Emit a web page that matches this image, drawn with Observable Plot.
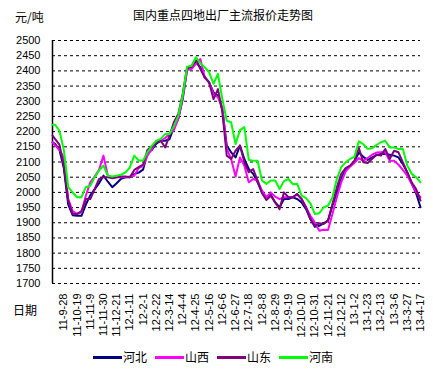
<!DOCTYPE html>
<html>
<head>
<meta charset="utf-8">
<script src="https://cdn.jsdelivr.net/npm/d3@7"></script>
<script src="https://cdn.jsdelivr.net/npm/@observablehq/plot@0.6"></script>
<style>
  html, body { margin: 0; padding: 0; background: #fff; }
  #wrap { position: relative; width: 433px; height: 370px; overflow: hidden; background: #fff; }
  #chart { position: absolute; left: 0; top: 0; }
  .txt { position: absolute; font-family: "Noto Sans CJK SC", sans-serif; font-size: 12px; color: #000; line-height: 1; white-space: nowrap; }
  #legend { position: absolute; left: 93px; top: 351px; display: flex; align-items: center; font-family: "Noto Sans CJK SC", sans-serif; font-size: 12px; line-height: 1; }
  #legend .item { display: flex; align-items: center; margin-right: 8px; }
  #legend .sw { width: 29px; height: 3px; margin-right: 1px; }
</style>
</head>
<body>
<div id="wrap">
  <div id="chart"></div>
  <div class="txt" style="left:15px; top:11px;">元/吨</div>
  <div class="txt" style="left:133px; top:9px;">国内重点四地出厂主流报价走势图</div>
  <div class="txt" style="left:13px; top:304px;">日期</div>
  <div id="legend"></div>
</div>
<script>
// Tick labels (every 21 days)
const tickLabels = ["11-9-28","11-10-19","11-11-9","11-11-30","11-12-21","12-1-11","12-2-1","12-2-22","12-3-14","12-4-4","12-4-25","12-5-16","12-6-6","12-6-27","12-7-18","12-8-8","12-8-29","12-9-19","12-10-10","12-10-31","12-11-21","12-12-12","13-1-2","13-1-23","13-2-13","13-3-6","13-3-27","13-4-17"];

const seriesNames = ["河北", "山西", "山东", "河南"];
const seriesColors = ["#000080", "#FF00FF", "#800080", "#00FF00"];

// Sample dates: axis start, then weekly from 2011-09-14 to 2013-04-17
const startDay = "2011-09-10";
const firstWeek = "2011-09-14";
const weekCount = 84;

// Values (元/吨) read at each sample date
const hebei = [2165,
 2160,2140,2080,1960,1925,1923,1923,1960,1990,2010,2030,2055,2035,2017,2030,2045,2050,2050,2060,2065,2075,2130,2140,2160,2170,2170,2175,2215,
 2242,2307,2406,2417,2428,2412,2379,2362,2329,2318,2275,2154,2132,2115,2154,2110,2077,2061,2033,2000,1984,1993,1967,1951,1978,1978,
 1984,1978,1967,1945,1912,1887,1890,1898,1907,1956,2000,2044,2077,2086,2102,2131,2117,2107,2115,2123,2126,2126,2124,2121,2115,2093,2066,2030,1997,1951];

const shanxi = [2165,
 2155,2140,2115,1978,1938,1929,1934,1989,2033,2052,2074,2121,2055,2046,2050,2050,2050,2052,2055,2080,2087,2121,2143,2168,2170,2179,2192,2205,
 2242,2313,2403,2406,2423,2439,2379,2362,2324,2313,2280,2143,2110,2052,2115,2088,2033,2044,2039,2006,1984,2000,1986,1978,1984,1984,
 1984,1993,1978,1951,1923,1901,1874,1877,1876,1929,1984,2033,2069,2085,2097,2113,2104,2113,2124,2131,2132,2132,2104,2104,2091,2074,2055,2028,2000,1984];

const shandong = [2187,
 2176,2157,2088,1973,1929,1929,1938,1978,1978,2011,2044,2050,2050,2047,2050,2052,2052,2050,2074,2083,2091,2140,2150,2164,2170,2148,2187,2231,
 2258,2324,2412,2412,2439,2406,2379,2362,2307,2340,2264,2121,2110,2137,2154,2099,2066,2077,2039,1997,1975,1989,1967,1945,2000,1984,
 1984,1995,1978,1951,1912,1890,1898,1896,1907,1962,2017,2061,2080,2088,2104,2146,2099,2097,2110,2124,2121,2143,2110,2137,2132,2099,2066,2033,2011,1973];

const henan = [2223,
 2223,2203,2140,2017,2000,1984,1984,2017,2022,2050,2072,2088,2055,2052,2055,2058,2066,2082,2121,2105,2105,2132,2154,2170,2176,2192,2192,2218,
 2253,2320,2414,2417,2445,2425,2412,2395,2357,2390,2307,2236,2231,2159,2205,2215,2107,2104,2104,2039,2028,2039,2039,2011,2037,2044,
 2027,2028,1989,1981,1964,1929,1931,1951,1956,1984,2044,2083,2099,2110,2117,2168,2159,2143,2145,2156,2165,2170,2148,2148,2143,2143,2088,2061,2050,2033];

const yTicks = [1700,1750,1800,1850,1900,1950,2000,2050,2100,2150,2200,2250,2300,2350,2400,2450,2500];

// ---- build ----
const parseLabel = d3.utcParse("%y-%m-%d");
const tickDates = tickLabels.map(parseLabel);
const labelByTime = new Map(tickDates.map((d, i) => [+d, tickLabels[i]]));
const dates = [new Date(startDay), ...d3.range(weekCount).map(i => d3.utcDay.offset(new Date(firstWeek), 7 * i))];

const allSeries = [hebei, shanxi, shandong, henan];
const rows = allSeries.flatMap((vals, s) => vals.map((v, i) => ({date: dates[i], value: v, name: seriesNames[s]})));

const chart = Plot.plot({
  width: 433,
  height: 370,
  marginLeft: 52,
  marginRight: 13,
  marginTop: 40,
  marginBottom: 87,
  style: {fontFamily: "'Liberation Sans', Arial, sans-serif", fontSize: "11px", background: "#fff", color: "#000"},
  x: {type: "utc", domain: [dates[0], tickDates[tickDates.length - 1]]},
  y: {domain: [1700, 2500]},
  color: {domain: seriesNames, range: seriesColors},
  marks: [
    Plot.gridY(yTicks, {stroke: "#000", strokeOpacity: 1, strokeDasharray: "3,3"}),
    Plot.ruleX([dates[0]], {stroke: "#000", strokeWidth: 1.5}),
    Plot.axisY(yTicks, {tickSize: 0, tickPadding: 12, fontSize: 11, label: null, tickFormat: d => String(d)}),
    Plot.axisX(tickDates, {tickSize: 0, tickPadding: 10, tickRotate: -90, fontSize: 11, label: null,
      tickFormat: d => labelByTime.get(+d)}),
    Plot.line(rows, {x: "date", y: "value", z: "name", stroke: "name", strokeWidth: 2})
  ]
});
document.getElementById("chart").appendChild(chart);

const legend = document.getElementById("legend");
seriesNames.forEach((n, i) => {
  const item = document.createElement("div");
  item.className = "item";
  const sw = document.createElement("div");
  sw.className = "sw";
  sw.style.background = seriesColors[i];
  const t = document.createElement("span");
  t.textContent = n;
  item.appendChild(sw);
  item.appendChild(t);
  legend.appendChild(item);
});
</script>
</body>
</html>
